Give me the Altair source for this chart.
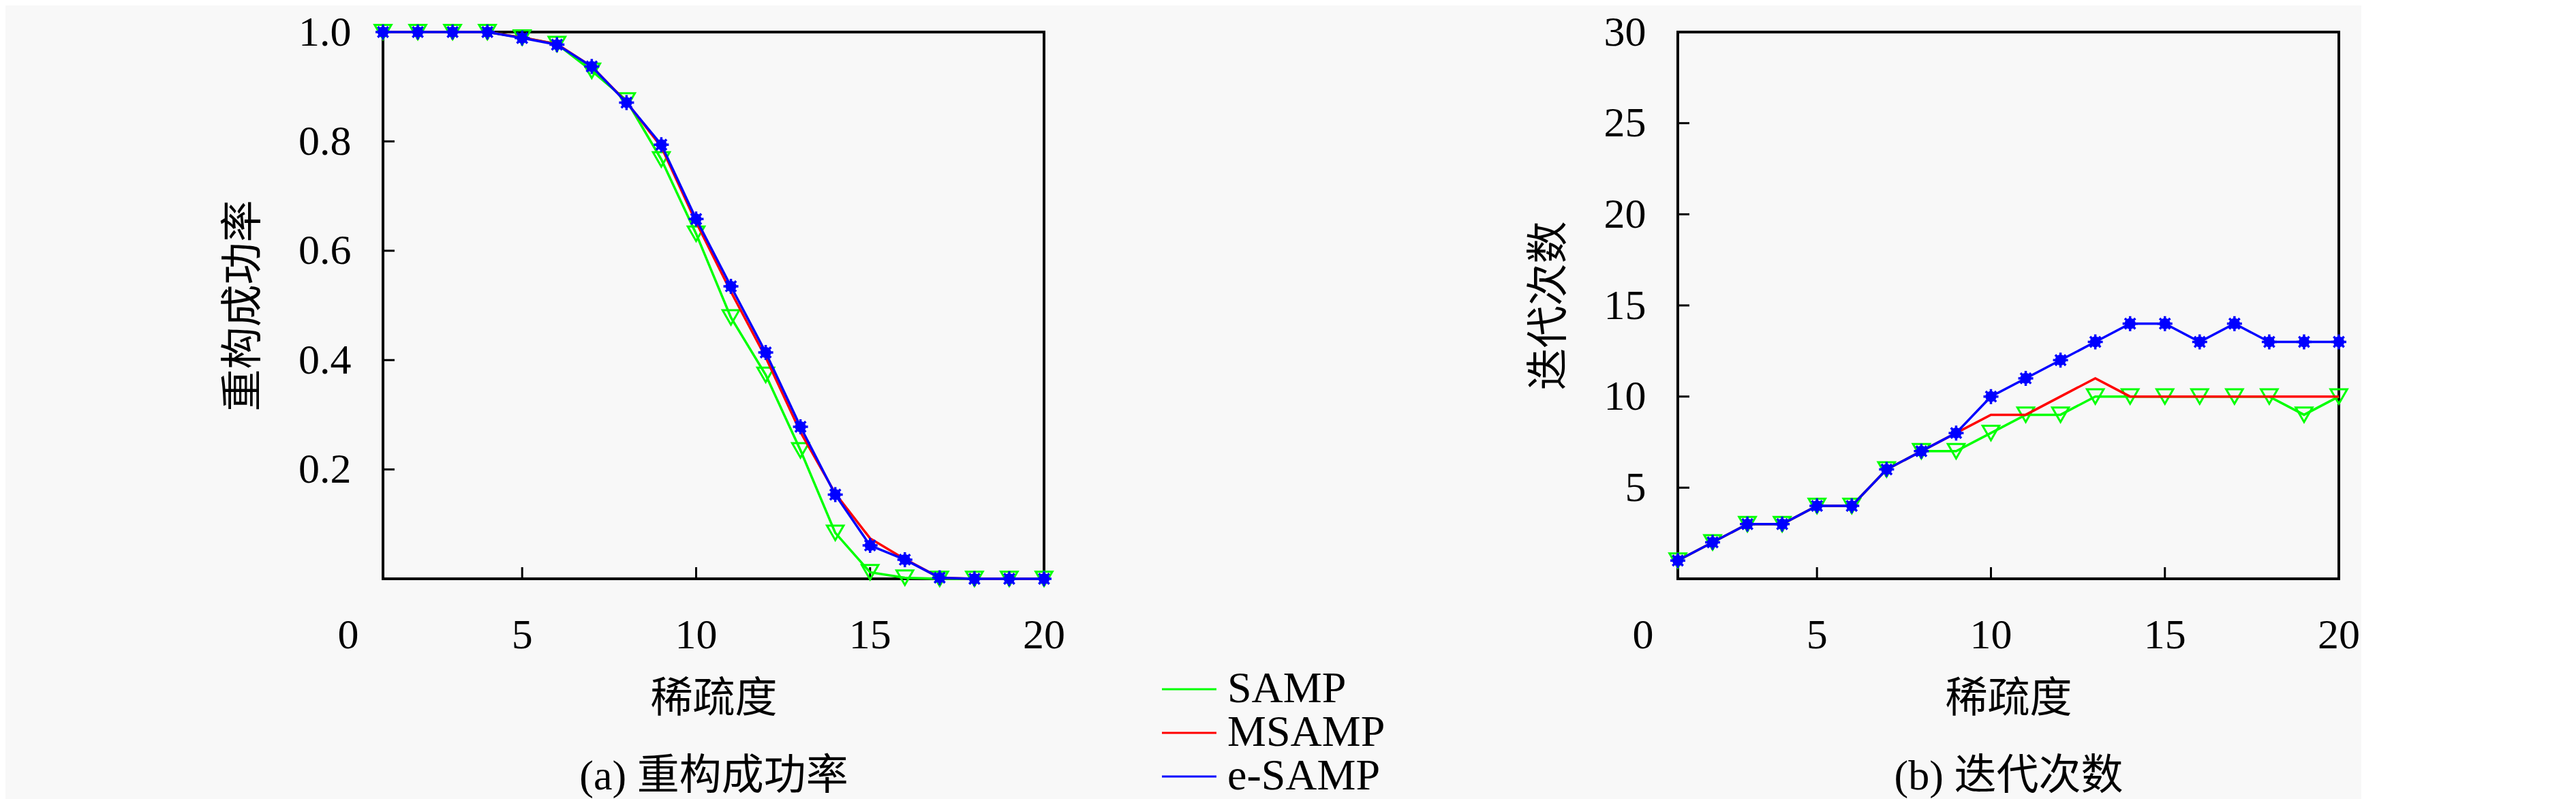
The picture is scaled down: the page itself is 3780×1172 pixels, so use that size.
import altair as alt
import pandas as pd

# sparsity levels (x axis) and the three algorithms
sparsity = list(range(1, 21))
series_names = ["SAMP", "MSAMP", "e-SAMP"]
series_colors = ["#00ff00", "#ff0000", "#0000ff"]

# (a) reconstruction success rate
rate_samp = [1, 1, 1, 1, 0.99, 0.978, 0.929, 0.875, 0.767, 0.631, 0.478, 0.373,
             0.235, 0.084, 0.012, 0.002, 0, 0, 0, 0]
rate_msamp = [1, 1, 1, 1, 0.99, 0.978, 0.937, 0.872, 0.79, 0.652, 0.525, 0.405,
              0.268, 0.156, 0.074, 0.036, 0.002, 0, 0, 0]
rate_esamp = [1, 1, 1, 1, 0.989, 0.977, 0.937, 0.871, 0.794, 0.658, 0.535, 0.414,
              0.278, 0.154, 0.061, 0.035, 0.002, 0, 0, 0]

# (b) number of iterations
iter_samp = [1, 2, 3, 3, 4, 4, 6, 7, 7, 8, 9, 9, 10, 10, 10, 10, 10, 10, 9, 10]
iter_msamp = [1, 2, 3, 3, 4, 4, 6, 7, 8, 9, 9, 10, 11, 10, 10, 10, 10, 10, 10, 10]
iter_esamp = [1, 2, 3, 3, 4, 4, 6, 7, 8, 10, 11, 12, 13, 14, 14, 13, 14, 13, 13, 13]

# axis labels / inner tick marks
x_tick_labels = [0, 5, 10, 15, 20]
x_tick_marks = [5, 10, 15]
rate_tick_labels = [0.2, 0.4, 0.6, 0.8, 1.0]
rate_tick_marks = [0.2, 0.4, 0.6, 0.8]
iter_tick_labels = [5, 10, 15, 20, 25, 30]
iter_tick_marks = [5, 10, 15, 20, 25]

FONT = "Liberation Serif, Noto Sans CJK SC"
FS = 62
W, H = 970, 802
TICK = 17
ASTERISK = "M0,-1L0,1M-1,0L1,0M-0.7,-0.7L0.7,0.7M-0.7,0.7L0.7,-0.7"


def long_table(values_by_series):
    rows = []
    for name, vals in zip(series_names, values_by_series):
        for k, v in zip(sparsity, vals):
            rows.append({"sparsity": k, "series": name, "value": v})
    return pd.DataFrame(rows)


def panel(df, ymax, y_title, y_labels, y_marks, y_fmt, caption, legend):
    x = alt.X("sparsity:Q",
              scale=alt.Scale(domain=[1, 20], nice=False, zero=False),
              axis=alt.Axis(title=["稀疏度", caption], labels=False, ticks=False,
                            domain=False, grid=False, titlePadding=146,
                            titleLineHeight=113, titleFontSize=FS, titleFont=FONT,
                            titleFontWeight="normal", titleColor="black"))
    y = alt.Y("value:Q",
              scale=alt.Scale(domain=[0, ymax], nice=False, zero=True),
              axis=alt.Axis(title=y_title, values=y_labels, format=y_fmt,
                            ticks=False, domain=False, grid=False,
                            labelPadding=47, labelFlush=False, labelOverlap=False,
                            labelFontSize=FS, labelFont=FONT, labelColor="black",
                            titlePadding=48, titleFontSize=FS, titleFont=FONT,
                            titleFontWeight="normal", titleColor="black"))
    color = alt.Color("series:N",
                      scale=alt.Scale(domain=series_names, range=series_colors),
                      legend=legend)

    base = alt.Chart(df).encode(x=x, y=y)

    def line(name, w):
        return base.transform_filter(alt.datum.series == name).mark_line(
            strokeWidth=w, clip=False).encode(color=color)

    y_ticks = alt.Chart(pd.DataFrame({"value": y_marks})).mark_rule(
        color="black", strokeWidth=3).encode(
        y=y, x=alt.value(0), x2=alt.value(TICK))
    x_ticks = alt.Chart(pd.DataFrame({"sparsity": x_tick_marks})).mark_rule(
        color="black", strokeWidth=3).encode(
        x=x, y=alt.value(H), y2=alt.value(H - TICK))
    x_labels = alt.Chart(pd.DataFrame({"sparsity": x_tick_labels})).mark_text(
        font=FONT, fontSize=FS, color="black", baseline="middle").encode(
        x=x, y=alt.value(H + 83), text=alt.Text("sparsity:Q", format="d"))

    samp_pts = base.transform_filter(alt.datum.series == "SAMP").mark_point(
        shape="triangle-down", filled=False, size=600, strokeWidth=3,
        color="#00ff00", opacity=1, clip=False)
    esamp_dots = base.transform_filter(alt.datum.series == "e-SAMP").mark_point(
        shape="circle", filled=True, size=256, color="#0000ff", opacity=1, clip=False)
    esamp_star = base.transform_filter(alt.datum.series == "e-SAMP").mark_point(
        shape=ASTERISK, filled=False, size=484, strokeWidth=3.5,
        color="#0000ff", opacity=1, clip=False)

    return alt.layer(
        y_ticks, x_ticks, x_labels,
        line("SAMP", 3.5), samp_pts,
        line("MSAMP", 3.5),
        line("e-SAMP", 3.5), esamp_dots, esamp_star,
    ).properties(width=W, height=H)


# legend line samples: a path 4 units long -> 80px for size 1600
legend = alt.Legend(orient="none", legendX=1151, legendY=932, title=None,
                    symbolType="M-2,0L2,0", symbolSize=1600, symbolStrokeWidth=3,
                    labelFont=FONT, labelFontSize=64, labelColor="black",
                    labelLimit=0, labelOffset=24, rowPadding=-2, padding=0)

left = panel(long_table([rate_samp, rate_msamp, rate_esamp]), 1,
             "重构成功率", rate_tick_labels, rate_tick_marks, ".1f",
             "(a) 重构成功率", legend)
right = panel(long_table([iter_samp, iter_msamp, iter_esamp]), 30,
              "迭代次数", iter_tick_labels, iter_tick_marks, "d",
              "(b) 迭代次数", None)

chart = alt.hconcat(left, right, spacing=205).resolve_scale(
    color="independent"
).properties(
    padding={"left": 316, "top": 6, "right": 0, "bottom": 0},
    background="#f8f8f8"
).configure_view(
    stroke="black", strokeWidth=4
)

chart.save("out.html", embed_options={"renderer": "svg", "actions": False})
